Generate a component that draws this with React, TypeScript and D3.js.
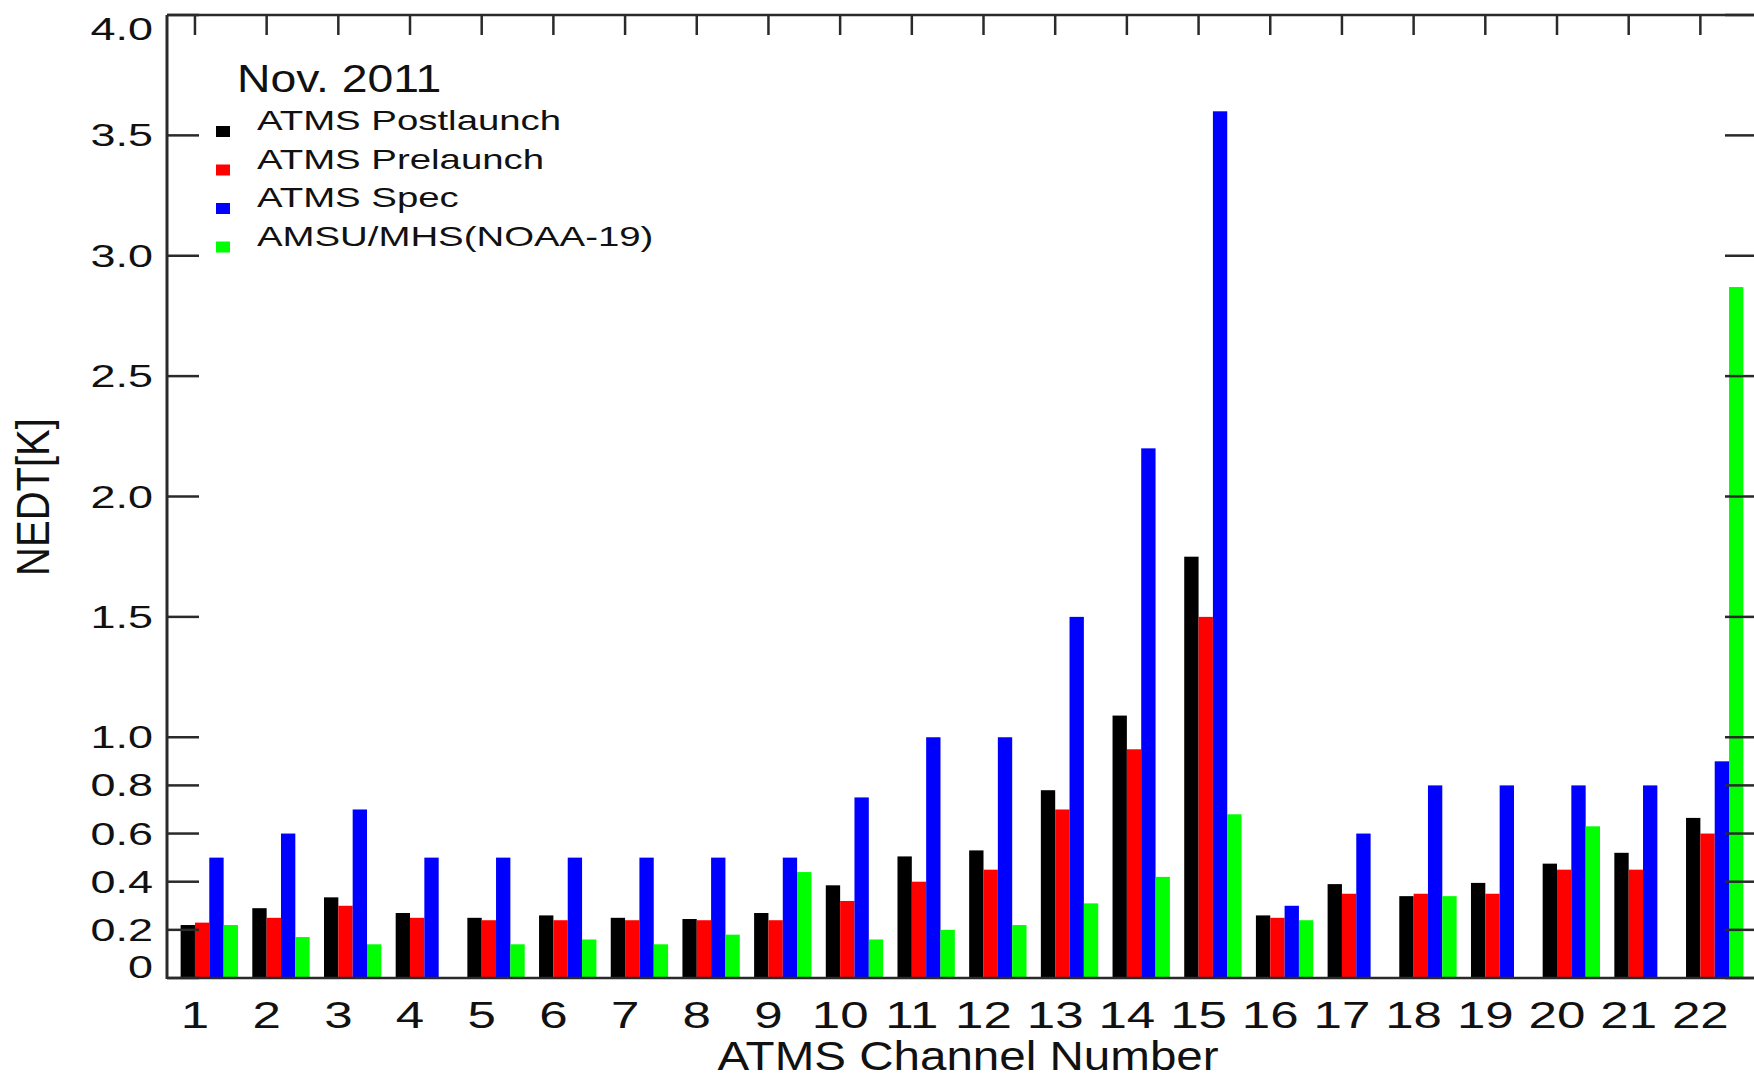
import React from "react";
import * as d3 from "d3";

const channels = d3.range(1, 23);
const postlaunch = [0.22, 0.29, 0.335, 0.27, 0.25, 0.26, 0.25, 0.245, 0.27, 0.385, 0.505, 0.53, 0.78, 1.09, 1.75, 0.26, 0.39, 0.34, 0.395, 0.475, 0.52, 0.665];
const prelaunch = [0.23, 0.25, 0.30, 0.25, 0.24, 0.24, 0.24, 0.24, 0.24, 0.32, 0.40, 0.45, 0.70, 0.95, 1.50, 0.25, 0.35, 0.35, 0.35, 0.45, 0.45, 0.60];
const spec = [0.5, 0.6, 0.7, 0.5, 0.5, 0.5, 0.5, 0.5, 0.5, 0.75, 1.0, 1.0, 1.5, 2.2, 3.6, 0.3, 0.6, 0.8, 0.8, 0.8, 0.8, 0.9];
const amsu = [0.22, 0.17, 0.14, 0, 0.14, 0.16, 0.14, 0.18, 0.44, 0.16, 0.20, 0.22, 0.31, 0.42, 0.68, 0.24, 0, 0.34, 0, 0.63, 0, 2.87];

const seriesNames = ["ATMS Postlaunch", "ATMS Prelaunch", "ATMS Spec", "AMSU/MHS(NOAA-19)"];
const seriesColors = ["#000000", "#ff0000", "#0000ff", "#00ff00"];
const seriesValues = [postlaunch, prelaunch, spec, amsu];

const yTicks = [0, 0.2, 0.4, 0.6, 0.8, 1.0, 1.5, 2.0, 2.5, 3.0, 3.5, 4.0];
const yTickLabels = ["0", "0.2", "0.4", "0.6", "0.8", "1.0", "1.5", "2.0", "2.5", "3.0", "3.5", "4.0"];

const W = 1754;
const H = 1077;
const FONT = "'Liberation Sans', Arial, Helvetica, sans-serif";

const x = d3.scaleLinear().domain([0.61, 22.79]).range([167, 1757]);
const y = d3.scaleLinear().domain([0, 4]).range([978, 15]);

function T({ x: tx, y: ty, sx = 1, size, anchor = "start", children }: any) {
  return (
    <text
      transform={`translate(${tx},${ty}) scale(${sx},1)`}
      fontSize={size}
      textAnchor={anchor}
      fill="#111"
      fontFamily={FONT}
    >
      {children}
    </text>
  );
}

export default function App() {
  const step = x(2) - x(1);
  const bw = step / 5;
  const [x0, x1] = x.range();
  const [yb, yt] = y.range();
  const axisColor = "#2a2a2a";

  return (
    <svg
      width={W}
      height={H}
      style={{ position: "absolute", left: 0, top: 0, background: "#fff" }}
      xmlns="http://www.w3.org/2000/svg"
    >
      <rect x={0} y={0} width={W} height={H} fill="#fff" />

      {/* bars */}
      {seriesValues.map((vals, si) => (
        <g key={si} fill={seriesColors[si]}>
          {channels.map((c, i) =>
            vals[i] > 0 ? (
              <rect
                key={c}
                x={x(c) + (si - 1) * bw}
                y={y(vals[i])}
                width={bw}
                height={y(0) - y(vals[i])}
              />
            ) : null
          )}
        </g>
      ))}

      {/* frame */}
      <g stroke={axisColor} fill="none">
        <line x1={x0} x2={x0} y1={yt} y2={yb + 1} strokeWidth={3} />
        <line x1={x0} x2={x1} y1={yt} y2={yt} strokeWidth={2.5} />
        <line x1={x0} x2={x1} y1={yb} y2={yb} strokeWidth={2.5} />
        <line x1={x1} x2={x1} y1={yt} y2={yb} strokeWidth={3} />
        {channels.map((c) => (
          <line key={"tt" + c} x1={x(c)} x2={x(c)} y1={yt} y2={yt + 20} strokeWidth={2.5} />
        ))}
        {yTicks.map((v) => (
          <g key={"yt" + v}>
            <line x1={x0} x2={x0 + 32} y1={y(v)} y2={y(v)} strokeWidth={2.5} />
            <line x1={x1} x2={x1 - 32} y1={y(v)} y2={y(v)} strokeWidth={2.5} />
          </g>
        ))}
      </g>

      {/* y tick labels */}
      {yTicks.map((v, i) => {
        let by = y(v) + 11;
        if (v === 4) by = y(v) + 25;
        if (v === 0) by = y(v);
        return (
          <T key={"yl" + v} x={x0 - 14} y={by} sx={1.45} size={31} anchor="end">
            {yTickLabels[i]}
          </T>
        );
      })}

      {/* x tick labels */}
      {channels.map((c) => (
        <T key={"xl" + c} x={x(c)} y={1028} sx={1.38} size={37} anchor="middle">
          {String(c)}
        </T>
      ))}

      {/* axis titles */}
      <T x={968} y={1070} sx={1.16} size={41} anchor="middle">
        ATMS Channel Number
      </T>
      <text
        transform={`translate(49,497) scale(1.15,1) rotate(-90)`}
        fontSize={40}
        textAnchor="middle"
        fill="#111"
        fontFamily={FONT}
      >
        NEDT[K]
      </text>

      {/* legend */}
      <T x={237} y={92} sx={1.22} size={38}>
        Nov. 2011
      </T>
      {seriesNames.map((name, i) => {
        const base = 130 + i * 38.5;
        return (
          <g key={name}>
            <rect x={216} y={base - 4} width={14} height={11} fill={seriesColors[i]} />
            <T x={257} y={base} sx={1.37} size={28}>
              {name}
            </T>
          </g>
        );
      })}
    </svg>
  );
}
